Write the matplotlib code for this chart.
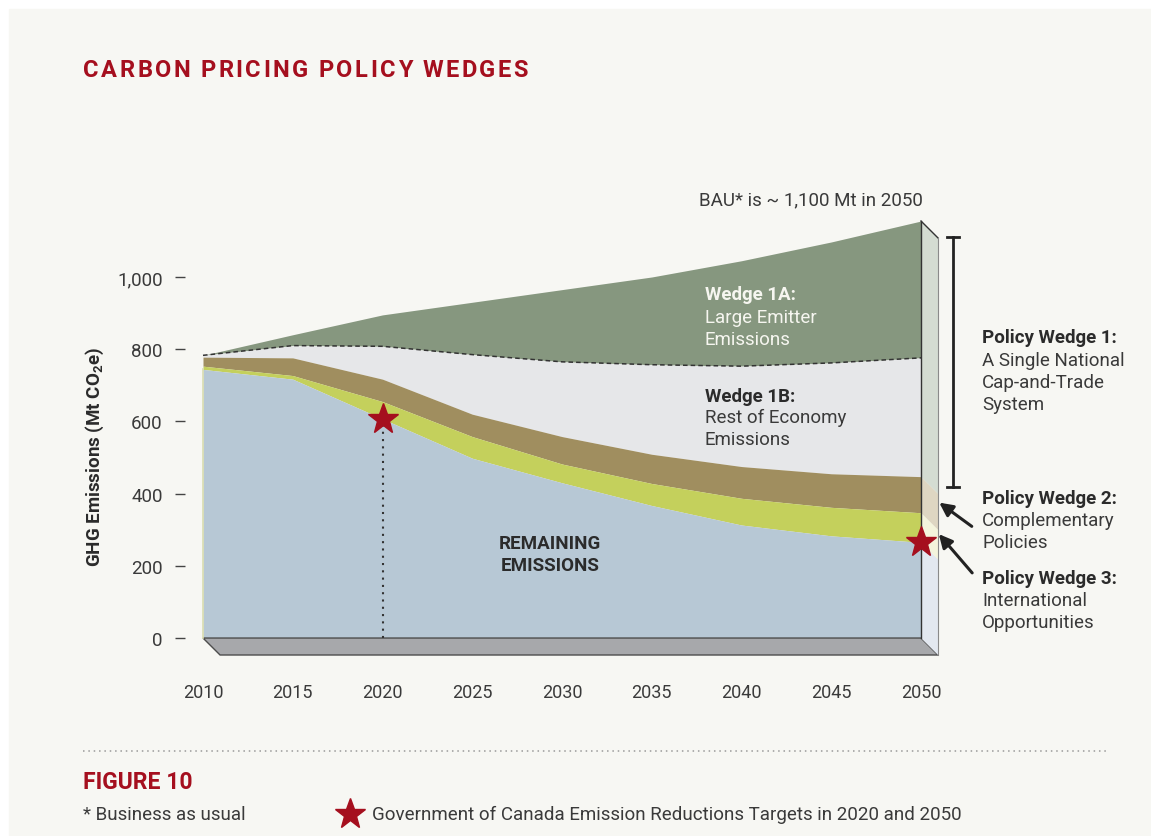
import matplotlib
matplotlib.use('Agg')
import matplotlib.pyplot as plt
from matplotlib.patches import Polygon, Rectangle
from matplotlib.lines import Line2D

plt.rcParams['font.family'] = ['Roboto', 'DejaVu Sans']
plt.rcParams['mathtext.fontset'] = 'custom'
plt.rcParams['mathtext.rm'] = 'Roboto'
plt.rcParams['mathtext.bf'] = 'Roboto:bold'

# emission pathways, Mt CO2e
years = [2010, 2015, 2020, 2025, 2030, 2035, 2040, 2045, 2050]
bau = [783, 840, 895, 930, 965, 1000, 1045, 1097, 1155]
wedge_1a_floor = [783, 810, 808, 785, 765, 757, 753, 762, 776]
wedge_1b_floor = [778, 776, 717, 620, 558, 509, 475, 455, 447]
wedge_2_floor = [753, 727, 655, 558, 482, 428, 387, 362, 347]
remaining = [744, 717, 607, 498, 430, 367, 313, 283, 265]

target_years = [2020, 2050]
target_values = [607, 265]

ytick_values = [0, 200, 400, 600, 800, 1000]
xtick_values = [2010, 2015, 2020, 2025, 2030, 2035, 2040, 2045, 2050]

RED = '#a50f1e'
DARK = '#2b2b2b'
TXT = '#3a3a3a'
FS = 13.5

W, H = 1151, 837
fig = plt.figure(figsize=(W / 100, H / 100), dpi=100, facecolor='white')
fig.add_artist(Rectangle((9 / W, 0), 1 - 9 / W, 1 - 10 / H, transform=fig.transFigure,
                         color='#f7f7f3', zorder=-10))

# axes box: 2010 sits at x=203px, 0 Mt at y=639px
ax = fig.add_axes([185.05 / W, (H - 656) / H, 753.9 / W, 443 / H])
ax.set_xlim(2009, 2051)
ax.set_ylim(-47, 1180)
ax.patch.set_alpha(0)
for s in ax.spines.values():
    s.set_visible(False)

# depth offset of the 3D slab
dx, dy = 0.95, -47

ax.fill_between(years, wedge_1a_floor, bau, color='#86977f', lw=0)
ax.fill_between(years, wedge_1b_floor, wedge_1a_floor, color='#e6e7e9', lw=0)
ax.fill_between(years, wedge_2_floor, wedge_1b_floor, color='#a08e5f', lw=0)
ax.fill_between(years, remaining, wedge_2_floor, color='#c4d05c', lw=0)
ax.fill_between(years, 0, remaining, color='#b7c8d5', lw=0)
ax.plot(years, wedge_1a_floor, color='#333333', lw=1.1, ls=(0, (3, 2)))
ax.plot([2010, 2010], [0, remaining[0]], color='#d9ddb0', lw=1.2)

# floor slab
ax.add_patch(Polygon([(2010, 0), (2050, 0), (2050 + dx, dy), (2010 + dx, dy)],
                     closed=True, fc='#a7a8ab', ec='#4d4d4d', lw=1, clip_on=False))

# side face at 2050
side = [(0, remaining[-1], '#e3e8f0'),
        (remaining[-1], wedge_2_floor[-1], '#f4f4dc'),
        (wedge_2_floor[-1], wedge_1b_floor[-1], '#ded6c2'),
        (wedge_1b_floor[-1], bau[-1], '#d4dcd2')]
for lo, hi, c in side:
    ax.add_patch(Polygon([(2050, lo), (2050, hi), (2050 + dx, hi + dy), (2050 + dx, lo + dy)],
                         closed=True, fc=c, ec='none', clip_on=False))
ax.plot([2050, 2050 + dx], [bau[-1], bau[-1] + dy], color='#333333', lw=1, clip_on=False)
ax.plot([2050 + dx, 2050 + dx], [dy, bau[-1] + dy], color='#8a8a8a', lw=0.8, clip_on=False)
ax.plot([2050, 2050], [0, bau[-1]], color='#333333', lw=1, clip_on=False)

# targets
ax.plot([2020, 2020], [0, target_values[0]], color='#333333', lw=1.5, ls=(0, (1, 2.5)))
ax.plot(target_years, target_values, ls='none', marker='*', ms=23, color=RED,
        zorder=5, clip_on=False)

ax.set_yticks(ytick_values)
ax.set_yticklabels([f'{v:,}' for v in ytick_values])
ax.set_xticks(xtick_values)
ax.tick_params(axis='y', length=7, width=1, color='#444444', pad=9,
               labelsize=FS, labelcolor=TXT)
ax.tick_params(axis='x', length=0, pad=20, labelsize=13, labelcolor=TXT)


def label(xp, yp, s, **kw):
    kw.setdefault('fontsize', FS)
    kw.setdefault('color', TXT)
    kw.setdefault('va', 'center')
    return fig.text(xp / W, 1 - yp / H, s, **kw)


def spaced(xp, yp, s, width, **kw):
    # lay out characters one by one so the string fills the given width
    r = fig.canvas.get_renderer()
    arts, ws = [], []
    for ch in s:
        t = fig.text(0, 1 - yp / H, ch, va='baseline', **kw)
        arts.append(t)
        ws.append(0 if ch == ' ' else t.get_window_extent(r).width)
    sp = kw['fontsize'] * 0.3
    n_sp = s.count(' ')
    gap = (width - sum(ws) - n_sp * sp) / (len(s) - 1)
    x = xp
    for t, ch, w in zip(arts, s, ws):
        t.set_x(x / W)
        x += (sp if ch == ' ' else w) + gap


spaced(83, 77, 'CARBON PRICING POLICY WEDGES', 445, fontsize=17, fontweight='bold', color=RED)

label(95, 457, r'GHG Emissions (Mt CO$_\mathbf{2}$e)', rotation=90, ha='center',
      fontweight='bold', color=DARK)
label(923, 200, 'BAU* is ~ 1,100 Mt in 2050', ha='right')

label(705, 295, 'Wedge 1A:', fontweight='bold', color='#f6f6f0')
label(705, 318, 'Large Emitter', color='#f6f6f0')
label(705, 340, 'Emissions', color='#f6f6f0')
label(705, 397, 'Wedge 1B:', fontweight='bold', color=DARK)
label(705, 418, 'Rest of Economy')
label(705, 440, 'Emissions')
label(550, 544, 'REMAINING', ha='center', fontweight='bold', color=DARK)
label(550, 566, 'EMISSIONS', ha='center', fontweight='bold', color=DARK)

label(982, 338, 'Policy Wedge 1:', fontweight='bold', color=DARK)
label(982, 361, 'A Single National')
label(982, 383, 'Cap-and-Trade')
label(982, 405, 'System')
label(982, 499, 'Policy Wedge 2:', fontweight='bold', color=DARK)
label(982, 521, 'Complementary')
label(982, 543, 'Policies')
label(982, 579, 'Policy Wedge 3:', fontweight='bold', color=DARK)
label(982, 601, 'International')
label(982, 623, 'Opportunities')

# bracket for policy wedge 1
for xs, ys in [([953, 953], [238, 488]), ([947, 959], [238, 238]), ([947, 959], [488, 488])]:
    fig.add_artist(Line2D([x / W for x in xs], [1 - y / H for y in ys], color='#222222', lw=2))

for tail, head in [((974, 529), (937, 502)), ((974, 576), (937, 533))]:
    ax.annotate('', xy=(head[0], H - head[1]), xycoords='figure pixels',
                xytext=(tail[0], H - tail[1]), textcoords='figure pixels',
                arrowprops=dict(arrowstyle='-|>', color='#222222', lw=2.2, mutation_scale=20),
                annotation_clip=False)

# footer
fig.add_artist(Line2D([83 / W, 1108 / W], [1 - 752 / H] * 2, color='#9a9a9a', lw=1.1,
                      ls=(0, (1, 2.5))))
label(83, 789, 'FIGURE 10', va='baseline', fontsize=16.5, fontweight='bold', color=RED)
label(83, 815, '* Business as usual')
fig.add_artist(Line2D([350 / W], [1 - 815 / H], marker='*', ms=23, color=RED, ls='none'))
label(372, 815, 'Government of Canada Emission Reductions Targets in 2020 and 2050')

fig.savefig('out.png', dpi=100, facecolor=fig.get_facecolor())
